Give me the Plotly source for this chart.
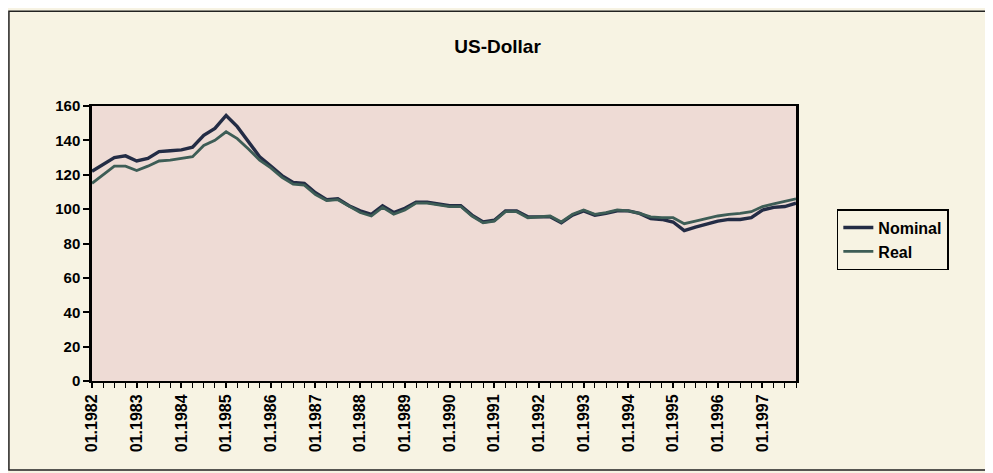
import plotly.graph_objects as go

# quarterly index 1982Q1 .. 1997Q4
years = list(range(1982, 1998))
months = ["01", "04", "07", "10"]
quarters = [f"{m}.{y}" for y in years for m in months]

nominal = [
    122, 126, 130, 131, 128, 129.5, 133.5, 134, 134.5, 136, 143, 147, 154.5, 148, 139, 130.5,
    125, 119.5, 115.5, 115, 109.5, 105.5, 106, 102, 99, 97, 102, 98, 100.5, 104, 104, 103,
    102, 102, 96.5, 92.5, 93.5, 99, 99, 95.5, 95.5, 95.5, 92, 96.5, 99, 96.5, 97.5, 99,
    99, 97.5, 94.5, 94, 92.5, 87.5, 89.5, 91.5, 93, 94, 94, 95, 99.5, 101, 101.5, 103.5,
]
real = [
    115, 120, 125, 125, 122.5, 125, 128, 128.5, 129.5, 130.5, 137, 140, 145, 141, 135, 128.5,
    124, 118.5, 114.5, 114, 108.5, 105, 105.5, 101.5, 98, 96, 101, 97, 99.5, 103.5, 103.5, 102.5,
    101.5, 101.5, 96, 92, 93, 98.5, 98.5, 95, 95.5, 96, 92.5, 97, 99.5, 97, 98, 99.5,
    99, 97.5, 95.5, 95, 95, 91.5, 93, 94.5, 96, 97, 97.5, 98.5, 101.5, 103, 104.5, 106,
]
series_names = ["Nominal", "Real"]
year_labels = [f"01.{y}" for y in years]

x_idx = list(range(len(quarters)))
tick_pos = [quarters.index(lbl) for lbl in year_labels]

font_main = dict(family="Arial, Liberation Sans, sans-serif", color="black", weight="bold")

fig = go.Figure()
fig.add_trace(go.Scatter(
    x=x_idx, y=nominal, name=series_names[0], mode="lines",
    line=dict(color="#232c45", width=3.4), text=quarters,
))
fig.add_trace(go.Scatter(
    x=x_idx, y=real, name=series_names[1], mode="lines",
    line=dict(color="#3d5d56", width=2.8), text=quarters,
))

# page has an 8px body margin, so the figure is 8px smaller and margins shifted
fig.update_layout(
    width=985, height=465,
    margin=dict(l=84, r=197, t=98, b=92),
    paper_bgcolor="#f7f3e3",
    plot_bgcolor="#eedbd5",
    title=dict(text="US-Dollar", x=0.497, xref="container", xanchor="center", y=0.918, yanchor="middle",
               font=dict(size=19, **font_main)),
    font=dict(size=16, **font_main),
    showlegend=True,
    legend=dict(x=1.058, y=0.625, xanchor="left", yanchor="top",
                bgcolor="#f7f3e3", bordercolor="black", borderwidth=1.5,
                entrywidth=105, entrywidthmode="pixels",
                font=dict(size=16, **font_main), tracegroupgap=0),
    shapes=[dict(type="rect", xref="paper", yref="paper",
                 x0=-0.118, x1=1.277, y0=-0.324, y1=1.345,
                 line=dict(color="#222", width=1.5))],
)
fig.update_xaxes(
    range=[0, len(quarters) - 1], tickmode="array", tickvals=tick_pos, ticktext=year_labels,
    tickangle=-90, ticks="outside", ticklen=5, tickwidth=1.5, tickcolor="black",
    minor=dict(dtick=1, tick0=0, ticks="outside", ticklen=5, tickwidth=1.2, tickcolor="black"),
    showline=True, linecolor="black", linewidth=2, mirror=True, showgrid=False, zeroline=False,
    tickfont=dict(size=16, **font_main),
)
fig.update_yaxes(
    range=[0, 160], tick0=0, dtick=20, ticks="outside", ticklen=6, tickwidth=1.5, tickcolor="black",
    showline=True, linecolor="black", linewidth=2.5, mirror=True, showgrid=False, zeroline=False,
    tickfont=dict(size=15, **font_main),
)

fig.write_html("out.html")
